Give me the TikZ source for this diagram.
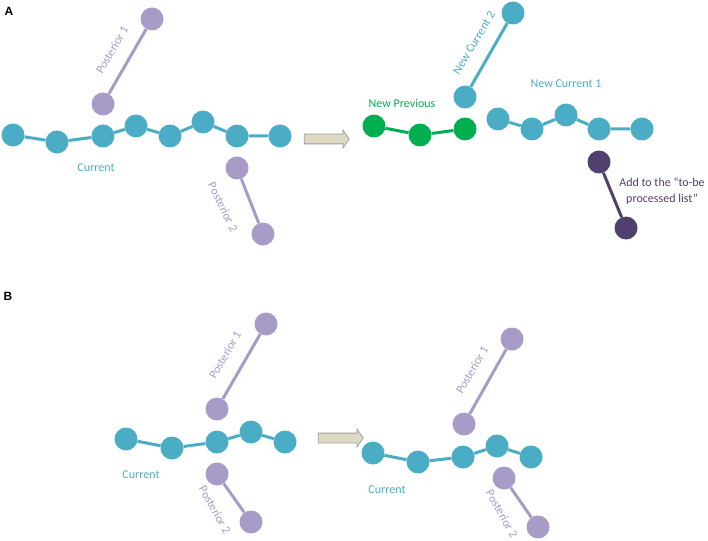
\documentclass[tikz,border=0pt]{standalone}
\usepackage{fontspec}
\setmainfont{Carlito}
\newfontfamily\headfont{Liberation Sans}
\usetikzlibrary{shapes.arrows}
\definecolor{curteal}{HTML}{4BACC6}
\definecolor{postlilac}{HTML}{A99BC7}
\definecolor{prevgreen}{HTML}{00B050}
\definecolor{todoplum}{HTML}{513F6E}
\definecolor{arrowtan}{HTML}{DDD9C3}
\definecolor{arrowgray}{HTML}{A0A0A0}

\begin{document}
\begin{tikzpicture}[
    x=1pt, y=-1pt,
    dot/.style={circle, fill=#1, minimum size=23pt, inner sep=0pt},
    lnk/.style={draw=#1, line width=3pt},
    lbl/.style={font=\fontsize{12}{16}\selectfont, text=#1, inner sep=1pt},
    goarrow/.style={single arrow, draw=arrowgray, fill=arrowtan, line width=0.8pt,
      minimum height=45pt, minimum width=17pt, inner xsep=0pt, inner ysep=4.5pt,
      single arrow head extend=4pt, single arrow tip angle=110},
    panel/.style={font=\headfont\bfseries\fontsize{12}{14}\selectfont},
  ]
  \useasboundingbox (0,0) rectangle (708,540);

  % =================== PANEL A ===================
  \node[panel] (labA) at (9,11) {A};

  % Current chain
  \node[dot=curteal] (a1) at (13,135) {};
  \node[dot=curteal] (a2) at (57,142) {};
  \node[dot=curteal] (a3) at (103,136) {};
  \node[dot=curteal] (a4) at (136,126) {};
  \node[dot=curteal] (a5) at (170,136) {};
  \node[dot=curteal] (a6) at (203,122) {};
  \node[dot=curteal] (a7) at (237,136) {};
  \node[dot=curteal] (a8) at (280,136) {};
  \draw[lnk=curteal] (a1) -- (a2) -- (a3) -- (a4) -- (a5) -- (a6) -- (a7) -- (a8);
  \node[lbl=curteal] (curA) at (96,168) {Current};

  % Posteriors
  \node[dot=postlilac] (pa1t) at (152,19) {};
  \node[dot=postlilac] (pa1b) at (103,104) {};
  \draw[lnk=postlilac] (pa1b) -- (pa1t);
  \node[lbl=postlilac, rotate=60] (posA1) at (112,50) {Posterior 1};
  \node[dot=postlilac] (pa2t) at (237,168) {};
  \node[dot=postlilac] (pa2b) at (263,234) {};
  \draw[lnk=postlilac] (pa2t) -- (pa2b);
  \node[lbl=postlilac, rotate=-64] (posA2) at (223,207) {Posterior 2};

  % Arrow
  \node[goarrow] (arrA) at (325,139) {};

  % New Previous
  \node[dot=prevgreen] (g1) at (374,126) {};
  \node[dot=prevgreen] (g2) at (420,135) {};
  \node[dot=prevgreen] (g3) at (465,129) {};
  \draw[lnk=prevgreen] (g1) -- (g2) -- (g3);
  \node[lbl=prevgreen] (prevA) at (402,103) {New Previous};

  % New Current 2
  \node[dot=curteal] (n2b) at (465,97) {};
  \node[dot=curteal] (n2t) at (513,13) {};
  \draw[lnk=curteal] (n2b) -- (n2t);
  \node[lbl=curteal, rotate=59] (ncur2) at (474,43) {New Current 2};

  % New Current 1
  \node[dot=curteal] (n1) at (498,119) {};
  \node[dot=curteal] (n2) at (532,129) {};
  \node[dot=curteal] (n3) at (566,115) {};
  \node[dot=curteal] (n4) at (599,129) {};
  \node[dot=curteal] (n5) at (642,129) {};
  \draw[lnk=curteal] (n1) -- (n2) -- (n3) -- (n4) -- (n5);
  \node[lbl=curteal] (ncur1) at (566,84) {New Current 1};

  % To-be processed
  \node[dot=todoplum] (t1) at (599,162) {};
  \node[dot=todoplum] (t2) at (626,228) {};
  \draw[lnk=todoplum] (t1) -- (t2);
  \node[lbl=todoplum, align=center] (todo) at (662,191) {Add to the “to-be\\processed list”};

  % =================== PANEL B ===================
  \node[panel] (labB) at (8,296) {B};

  % Left: Current chain
  \node[dot=curteal] (b1) at (126,439) {};
  \node[dot=curteal] (b2) at (172,448) {};
  \node[dot=curteal] (b3) at (217,442) {};
  \node[dot=curteal] (b4) at (251,432) {};
  \node[dot=curteal] (b5) at (285,442) {};
  \draw[lnk=curteal] (b1) -- (b2) -- (b3) -- (b4) -- (b5);
  \node[lbl=curteal] (curB) at (141,475) {Current};

  \node[dot=postlilac] (pb1t) at (266,324) {};
  \node[dot=postlilac] (pb1b) at (217,409) {};
  \draw[lnk=postlilac] (pb1b) -- (pb1t);
  \node[lbl=postlilac, rotate=60] (posB1) at (225,355) {Posterior 1};
  \node[dot=postlilac] (pb2t) at (217,474) {};
  \node[dot=postlilac] (pb2b) at (251,522) {};
  \draw[lnk=postlilac] (pb2t) -- (pb2b);
  \node[lbl=postlilac, rotate=-61] (posB2) at (215,510) {Posterior 2};

  % Arrow
  \node[goarrow] (arrB) at (339,438) {};

  % Right: Current chain
  \node[dot=curteal] (r1) at (373,453) {};
  \node[dot=curteal] (r2) at (418,462) {};
  \node[dot=curteal] (r3) at (463,457) {};
  \node[dot=curteal] (r4) at (497,446) {};
  \node[dot=curteal] (r5) at (531,457) {};
  \draw[lnk=curteal] (r1) -- (r2) -- (r3) -- (r4) -- (r5);
  \node[lbl=curteal] (curR) at (387,490) {Current};

  \node[dot=postlilac] (pr1t) at (512,339) {};
  \node[dot=postlilac] (pr1b) at (464,424) {};
  \draw[lnk=postlilac] (pr1b) -- (pr1t);
  \node[lbl=postlilac, rotate=60] (posR1) at (472,370) {Posterior 1};
  \node[dot=postlilac] (pr2t) at (504,478) {};
  \node[dot=postlilac] (pr2b) at (538,527) {};
  \draw[lnk=postlilac] (pr2t) -- (pr2b);
  \node[lbl=postlilac, rotate=-61] (posR2) at (502,514) {Posterior 2};

\end{tikzpicture}
\end{document}
